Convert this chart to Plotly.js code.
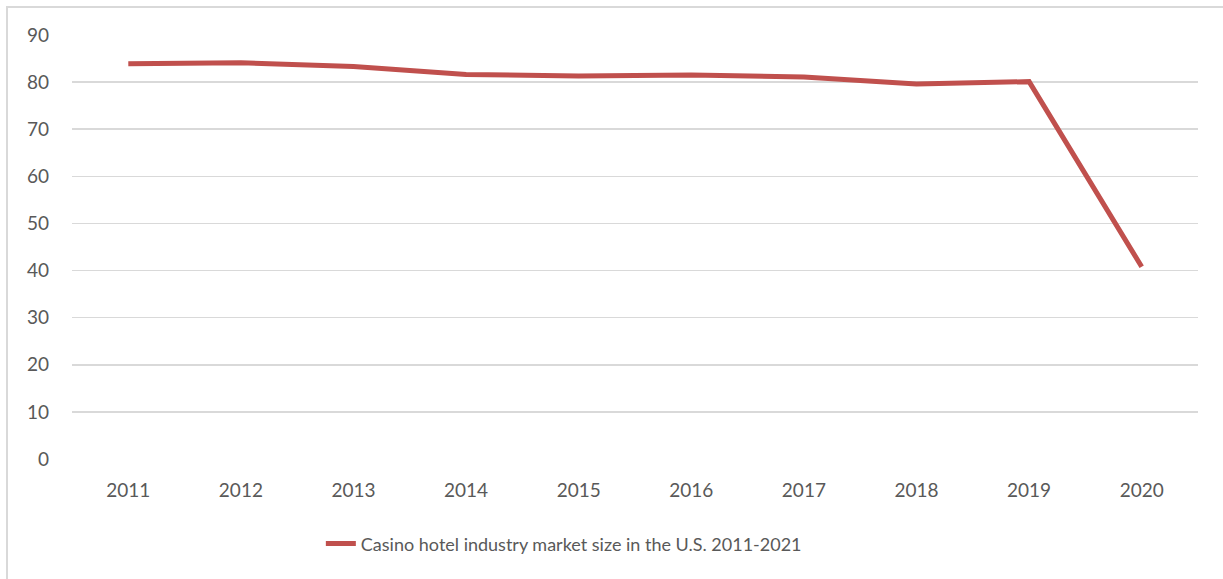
<!DOCTYPE html>
<html>
<head>
<meta charset="utf-8">
<script src="https://cdn.plot.ly/plotly-3.0.1.min.js"></script>
<style>
  html, body { margin: 0; padding: 0; background: #fff; }
  #wrap { position: relative; width: 1223px; height: 579px; }
  #frame { position: absolute; left: 6px; top: 6px; right: 0; bottom: 0; border-left: 2px solid #d9d9d9; border-top: 2px solid #d9d9d9; pointer-events: none; z-index: 5; }
  #chart { position: absolute; left: 0; top: 0; width: 1223px; height: 579px; }
</style>
</head>
<body>
<div id="wrap">
  <div id="chart"></div>
  <div id="frame"></div>
</div>
<script>
const years = ['2011','2012','2013','2014','2015','2016','2017','2018','2019','2020'];
const marketSize = [83.9, 84.1, 83.3, 81.6, 81.3, 81.5, 81.1, 79.6, 80.1, 40.8];
const seriesName = 'Casino hotel industry market size in the U.S. 2011-2021';
const yTicks = [0, 10, 20, 30, 40, 50, 60, 70, 80, 90];

const trace = {
  x: years,
  y: marketSize,
  type: 'scatter',
  mode: 'lines',
  name: seriesName,
  line: { color: '#C0504D', width: 5 },
  showlegend: true
};

const layout = {
  width: 1223,
  height: 579,
  margin: { l: 72, r: 25, t: 35, b: 120 },
  paper_bgcolor: '#ffffff',
  plot_bgcolor: '#ffffff',
  font: { family: 'Lato, "Open Sans", sans-serif', size: 18, color: '#595959' },
  xaxis: {
    type: 'category',
    range: [-0.5, 9.5],
    showgrid: false,
    showline: false,
    zeroline: false,
    ticks: '',
    ticklabelstandoff: 18,
    tickfont: { size: 19, color: '#595959' }
  },
  yaxis: {
    range: [0, 90],
    tickvals: yTicks,
    showgrid: true,
    gridcolor: '#d9d9d9',
    gridwidth: 1.5,
    zeroline: false,
    showline: false,
    ticks: '',
    ticklabelstandoff: 22,
    tickfont: { size: 19, color: '#595959' }
  },
  legend: {
    orientation: 'h',
    x: 0.221,
    xanchor: 'left',
    y: -0.2,
    yanchor: 'middle',
    font: { size: 18, color: '#595959' },
    itemwidth: 30
  },
  showlegend: true
};

Plotly.newPlot('chart', [trace], layout, { displayModeBar: false, staticPlot: true });
</script>
</body>
</html>
